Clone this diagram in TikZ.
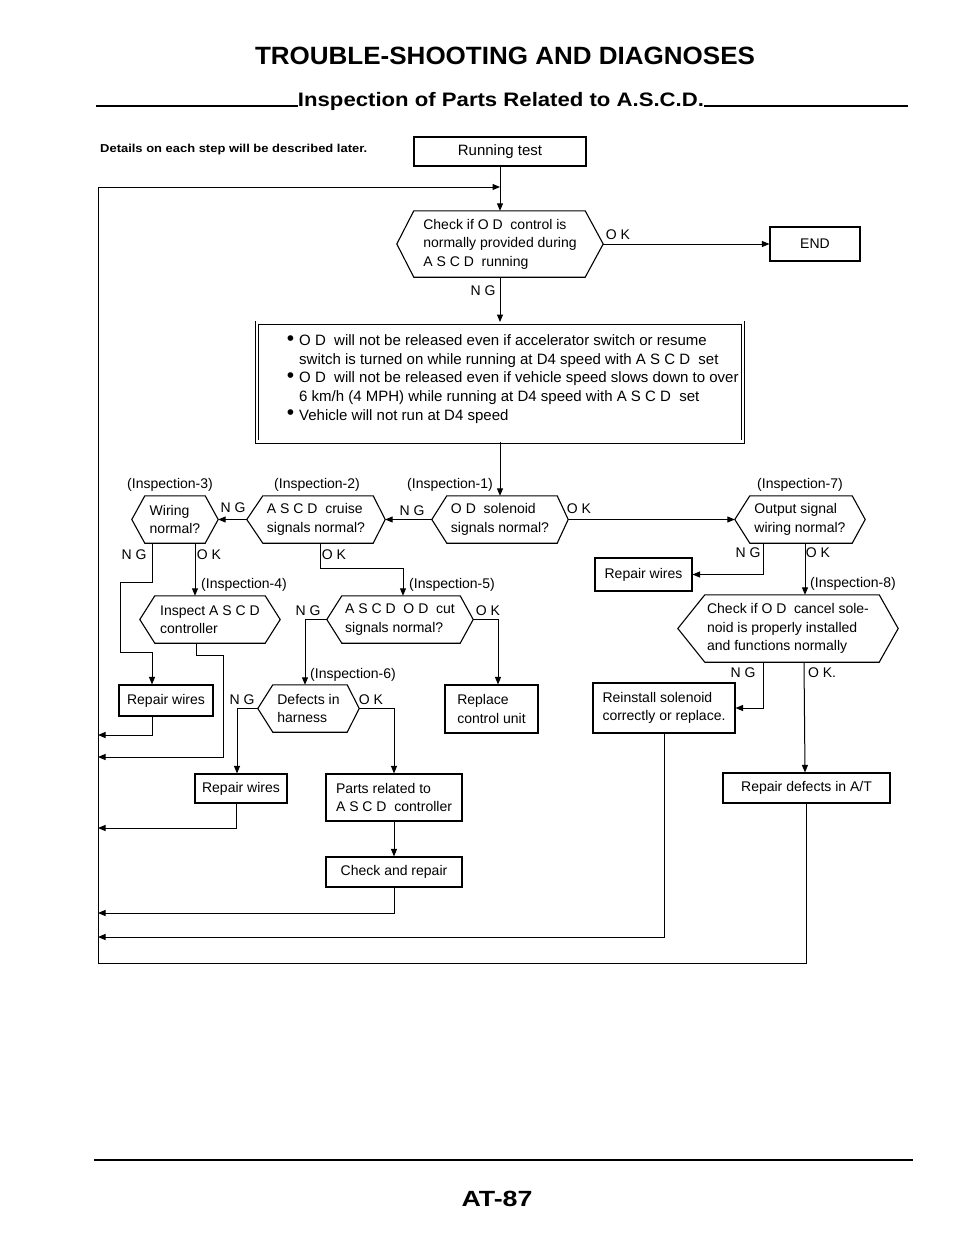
\documentclass[tikz,border=0pt]{standalone}
\usepackage{fontspec}
\setmainfont{Liberation Sans}
\usetikzlibrary{arrows.meta}
\newcommand\dg{\fontsize{14}{18.5}\selectfont}
\newcommand\bl{\fontsize{15}{18.6}\selectfont}
\newcommand\bul{\llap{\raisebox{0.3pt}{\scalebox{1.4}{\textbullet}}\hspace{5pt}}}
\newcommand\hexdraw[3]{\draw[shapeline] (#1.west) -- ([xshift=#2]#1.north west) -- ([xshift=-#3]#1.north east) -- (#1.east) -- ([xshift=-#3]#1.south east) -- ([xshift=#2]#1.south west) -- cycle;}
\tikzset{
  shapeline/.style={line width=1.1pt},
  boxnode/.style={draw, shapeline, rectangle, inner sep=0pt, font=\dg, align=center},
  hexnode/.style={rectangle, inner sep=0pt, font=\dg, align=left},
  lbl/.style={inner sep=0pt, font=\dg},
  arr/.style={line width=1pt, -{Triangle[length=7.5pt,width=6pt]}},
  rulel/.style={line width=1.8pt}
}
\begin{document}
\begin{tikzpicture}[x=1pt,y=-1pt]
\useasboundingbox (0,0) rectangle (960,1239);
\fill[white] (0,0) rectangle (960,1239);

% header
\node[inner sep=0pt, font=\fontsize{25}{25}\bfseries\selectfont] (tit) at (505,56) {\resizebox{500pt}{\height}{TROUBLE-SHOOTING AND DIAGNOSES}};
\node[inner sep=0pt, font=\fontsize{19.5}{19.5}\bfseries\selectfont] (sub) at (501,101) {\resizebox{406pt}{\height}{Inspection of Parts Related to A.S.C.D.}};
\draw[rulel] (sub.base west) -- ++(-202,0);
\draw[rulel] (sub.base east) -- ++(204,0);
\node[inner sep=0pt, anchor=west, font=\fontsize{11.5}{11.5}\bfseries\selectfont] (det) at (100,150) {\resizebox{267pt}{\height}{Details on each step will be described later.}};

% nodes
\node[boxnode, minimum width=172, minimum height=29, font=\fontsize{15}{18}\selectfont] (run) at (500,151.5) {Running test};
\node[hexnode, minimum width=206, minimum height=66] (chk) at (500,244) {Check if O D~ control is\\normally provided during\\A S C D~ running};
\hexdraw{chk}{17pt}{18pt}
\node[boxnode, minimum width=90, minimum height=34] (end) at (815,244) {END};

\node[draw, line width=0.9pt, double, double distance=2.2pt, minimum width=486, minimum height=119, inner sep=0pt] (bul) at (500,382) {};
\node[inner sep=0pt, anchor=west, font=\bl, align=left] (bult) at (299,379) {%
\bul O D~ will not be released even if accelerator switch or resume\\
switch is turned on while running at D4 speed with A S C D~ set\\
\bul O D~ will not be released even if vehicle speed slows down to over\\
6 km/h (4 MPH) while running at D4 speed with A S C D~ set\\
\bul Vehicle will not run at D4 speed};

\node[lbl, anchor=east] (i1) at (493,485) {(Inspection-1)};
\node[lbl] (i2) at (317,485) {(Inspection-2)};
\node[lbl] (i3) at (170,485) {(Inspection-3)};
\node[lbl] (i7) at (800,485) {(Inspection-7)};

\node[hexnode, minimum width=136, minimum height=47] (ods) at (500,519.5) {O D~ solenoid\\signals normal?};
\hexdraw{ods}{15pt}{11pt}
\node[hexnode, minimum width=138, minimum height=47] (cru) at (316,519.5) {A S C D~ cruise\\signals normal?};
\hexdraw{cru}{16pt}{12pt}
\node[hexnode, minimum width=86, minimum height=47] (wir) at (175,519.5) {Wiring\\normal?};
\hexdraw{wir}{13pt}{13pt}
\node[hexnode, minimum width=130, minimum height=47] (out) at (800,519.5) {Output signal\\wiring normal?};
\hexdraw{out}{15pt}{13pt}

\node[boxnode, minimum width=97, minimum height=33] (rw1) at (643.5,574.5) {Repair wires};

\node[lbl, anchor=west] (i4) at (201,585) {(Inspection-4)};
\node[lbl, anchor=west] (i5) at (409,585) {(Inspection-5)};
\node[lbl, anchor=west] (i8) at (810,584) {(Inspection-8)};

\node[hexnode, minimum width=140, minimum height=47] (ins) at (210,619.5) {Inspect A S C D\\controller};
\hexdraw{ins}{15pt}{15pt}
\node[hexnode, minimum width=146, minimum height=47] (cut) at (400,619.5) {A S C D~ O D~ cut\\signals normal?};
\hexdraw{cut}{15pt}{13pt}
\node[hexnode, minimum width=220, minimum height=67] (can) at (788,628.5) {Check if O D~ cancel sole-\\noid is properly installed\\and functions normally};
\hexdraw{can}{27pt}{19pt}

\node[lbl, anchor=west] (i6) at (310,675) {(Inspection-6)};

\node[boxnode, minimum width=94, minimum height=31] (rwl) at (166,700.5) {Repair wires};
\node[hexnode, minimum width=101, minimum height=47] (def) at (308.5,708.5) {Defects in\\harness};
\hexdraw{def}{15pt}{12pt}
\node[boxnode, minimum width=93, minimum height=48, align=left] (rep) at (491.5,709) {Replace\\control unit};
\node[boxnode, minimum width=142, minimum height=50, align=left] (rei) at (664,708) {Reinstall solenoid\\correctly or replace.};

\node[boxnode, minimum width=92, minimum height=29] (rw2) at (241,788.5) {Repair wires};
\node[boxnode, minimum width=136, minimum height=47, align=left] (par) at (394,797.5) {Parts related to\\A S C D~ controller};
\node[boxnode, minimum width=136, minimum height=30] (chr) at (394,872) {Check and repair};
\node[boxnode, minimum width=167, minimum height=30] (rda) at (806.5,788) {Repair defects in A/T};

% labels
\node[lbl] (l1) at (618,235) {O K};
\node[lbl] (l2) at (483,291) {N G};
\node[lbl] (l3) at (412,511) {N G};
\node[lbl] (l4) at (233,508) {N G};
\node[lbl] (l5) at (579,509) {O K};
\node[lbl] (l6) at (134,555) {N G};
\node[lbl] (l7) at (209,555) {O K};
\node[lbl] (l8) at (334,555) {O K};
\node[lbl] (l9) at (748,553) {N G};
\node[lbl] (l10) at (818,553) {O K};
\node[lbl] (l11) at (308,611) {N G};
\node[lbl] (l12) at (488,611) {O K};
\node[lbl] (l13) at (242,700) {N G};
\node[lbl] (l14) at (371,700) {O K};
\node[lbl] (l15) at (743,673) {N G};
\node[lbl] (l16) at (822,673) {O K.};

% connectors
\draw[arr] (run.south) -- (chk.north);
\draw[arr] (rda.south) |- (98,963) -- (98,187) -- (run.south |- 0,187);
\draw[arr] (chk.east) -- (end.west);
\draw[arr] (chk.south) -- (bul.north);
\draw[arr] (bul.south) -- (ods.north);
\draw[arr] (ods.west) -- (cru.east);
\draw[arr] (cru.west) -- (wir.east);
\draw[arr] (ods.east) -- (out.west);
\draw[arr] ([xshift=-23pt]wir.south) -- ++(0,39) -| (120,652) -| ([xshift=-14pt]rwl.north);
\draw[arr] ([xshift=20pt]wir.south) -- ([xshift=-15pt]ins.north);
\draw[arr] ([xshift=4pt]cru.south) -- ++(0,25) -| ([xshift=3pt]cut.north);
\draw[arr] ([xshift=-37pt]out.south) |- (rw1.east);
\draw[arr] ([xshift=5pt]out.south) -- ([xshift=17pt]can.north);
\draw[arr] ([xshift=-14pt]ins.south) -- ++(0,12) -| (223,757) -- (98,757);
\draw[arr] ([xshift=-14pt]rwl.south) |- (98,735);
\draw[arr] (cut.west) -| ([xshift=-3.5pt]def.north);
\draw[arr] (cut.east) -| ([xshift=6.5pt]rep.north);
\draw[arr] (def.west) -| ([xshift=-4pt]rw2.north);
\draw[arr] (def.east) -| (par.north);
\draw[arr] ([xshift=-5pt]rw2.south) |- (98,828);
\draw[arr] (par.south) -- (chr.north);
\draw[arr] (chr.south) |- (98,913);
\draw[arr] ([xshift=-25pt]can.south) |- (rei.east);
\draw[arr] ([xshift=16pt]can.south) -- ([xshift=-1.5pt]rda.north);
\draw[arr] (rei.south) |- (98,937);

% footer
\draw[line width=2.4pt] (94,1160) -- (913,1160);
\node[inner sep=0pt, font=\fontsize{22}{22}\bfseries\selectfont] (pg) at (497,1199) {\resizebox{71pt}{\height}{AT-87}};
\end{tikzpicture}
\end{document}
